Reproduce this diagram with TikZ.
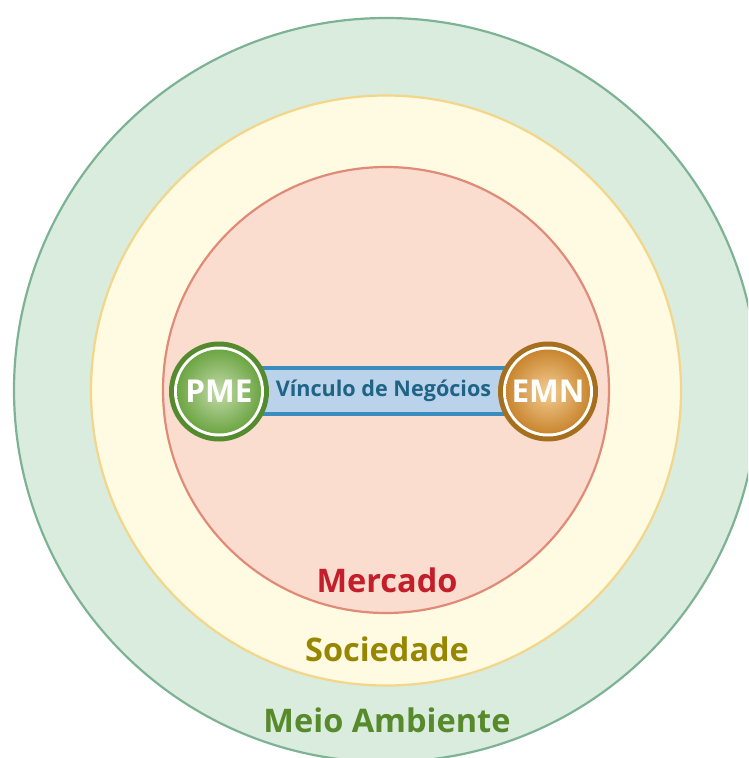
\documentclass[tikz,border=0pt]{standalone}
\usepackage{fontspec}
\setmainfont{Open Sans}
\definecolor{envFill}{HTML}{D9ECDD}
\definecolor{envLine}{HTML}{7DB394}
\definecolor{socFill}{HTML}{FEFBE2}
\definecolor{socLine}{HTML}{F3D68A}
\definecolor{mktFill}{HTML}{FBDDD0}
\definecolor{mktLine}{HTML}{E08A78}
\definecolor{linkFill}{HTML}{BAD3EA}
\definecolor{linkLine}{HTML}{3A8DBE}
\definecolor{linkText}{HTML}{1F6387}
\definecolor{mktText}{HTML}{C41E2A}
\definecolor{socText}{HTML}{978700}
\definecolor{envText}{HTML}{568A2B}
\definecolor{pmeDark}{HTML}{558B2F}
\definecolor{pmeIn}{HTML}{C2DBA8}
\definecolor{pmeOut}{HTML}{6DA544}
\definecolor{emnDark}{HTML}{A66F1E}
\definecolor{emnIn}{HTML}{F3CD92}
\definecolor{emnOut}{HTML}{C98630}
\tikzset{
  ring/.style={circle, inner sep=0pt, line width=2.2pt},
  label/.style={font=\bfseries\fontsize{32.5}{36}\selectfont, anchor=base},
  badge/.style={circle, inner sep=0pt, minimum size=100pt},
  badgetext/.style={font=\bfseries\fontsize{31.5}{34}\selectfont, text=white},
}
\begin{document}
\begin{tikzpicture}[x=1pt,y=-1pt]
\useasboundingbox (0,0) rectangle (748,758);
\clip (0,0) rectangle (748,758);
\node[ring, draw=envLine, fill=envFill, minimum size=744pt] (env) at (386,390) {};
\node[ring, draw=socLine, fill=socFill, minimum size=590pt] (soc) at (386,390.5) {};
\node[ring, draw=mktLine, fill=mktFill, minimum size=446pt] (mkt) at (386,390) {};
\node[label, text=mktText] (mktlabel) at (387,592) {Mercado};
\node[label, text=socText] (soclabel) at (387,661) {Sociedade};
\node[label, text=envText] (envlabel) at (387,732) {Meio Ambiente};
% link bar
\node[draw=linkLine, fill=linkFill, line width=4pt, minimum width=262pt, minimum height=46pt, inner sep=0pt] (link) at (383.5,390.5) {};
\node[font=\bfseries\fontsize{21.6}{24}\selectfont, text=linkText] (linktext) at (383.5,390.5) {Vínculo de Negócios};
% PME
\node[badge, fill=pmeDark] (pme) at (219,391.5) {};
\fill[white] (pme.center) circle (45pt);
\shade[inner color=pmeIn, outer color=pmeOut] (pme.center) circle (42pt);
\node[badgetext] (pmetext) at (pme.center) {PME};
% EMN
\node[badge, fill=emnDark] (emn) at (548,391.5) {};
\fill[white] (emn.center) circle (45pt);
\shade[inner color=emnIn, outer color=emnOut] (emn.center) circle (42pt);
\node[badgetext] (emntext) at (emn.center) {EMN};
\end{tikzpicture}
\end{document}
